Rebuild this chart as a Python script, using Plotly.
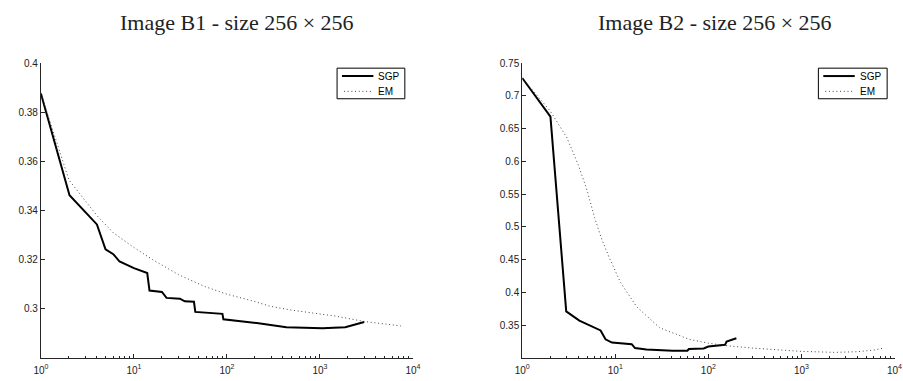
import plotly.graph_objects as go

# ---------------- data ----------------
b1_sgp_x = [1, 2.03, 4.0, 4.95, 6, 7, 10, 13.9, 14.7, 20, 22.4, 31.2, 35.2, 44.2, 45.7,
            89.4, 91.6, 209, 435, 1060, 1870, 2990]
b1_sgp_y = [0.3877, 0.3463, 0.3344, 0.3243, 0.3223, 0.3193, 0.3166, 0.3146, 0.3075, 0.3069,
            0.3045, 0.3042, 0.3031, 0.3029, 0.2988, 0.2980, 0.2958, 0.2943, 0.2926, 0.2922,
            0.2926, 0.2947]
b1_em_x = [1, 2, 3, 4, 6, 10, 16, 30, 57, 100, 200, 290, 500, 1000, 1466, 3000, 5000, 7400]
b1_em_y = [0.3877, 0.3525, 0.3440, 0.3380, 0.3310, 0.3250, 0.3200, 0.3140, 0.3092, 0.3060,
           0.3030, 0.3011, 0.2995, 0.2980, 0.2971, 0.2949, 0.2940, 0.2931]

b2_sgp_x = [1, 2.01, 2.97, 4.11, 6.95, 7.85, 9.2, 15, 16.3, 21.6, 41.3, 59.5, 61.7, 89, 100,
            151, 157, 200]
b2_sgp_y = [0.7275, 0.6684, 0.3710, 0.3570, 0.3420, 0.3285, 0.3234, 0.3210, 0.3150, 0.3129,
            0.3110, 0.3110, 0.3135, 0.3144, 0.3174, 0.3200, 0.3250, 0.3300]
b2_em_x = [1, 2, 3, 4, 5, 6, 7, 8.5, 11.3, 17, 30, 62, 100, 163, 300, 550, 1000, 2300, 4000,
           6000, 7600]
b2_em_y = [0.7275, 0.6770, 0.6370, 0.5950, 0.5550, 0.5140, 0.4850, 0.4550, 0.4160, 0.3780,
           0.3460, 0.3285, 0.3225, 0.3185, 0.3150, 0.3120, 0.3100, 0.3085, 0.3095, 0.3120,
           0.3150]

titles = ["Image B1 - size 256 \u00d7 256", "Image B2 - size 256 \u00d7 256"]
series_names = ["SGP", "EM"]
x_tickvals = [1, 10, 100, 1000, 10000]
x_ticktext = ["10<sup>0</sup>", "10<sup>1</sup>", "10<sup>2</sup>", "10<sup>3</sup>", "10<sup>4</sup>"]
x_minor_vals = [m * d for d in [1, 10, 100, 1000] for m in range(2, 10)]
b1_yticks = [0.30, 0.32, 0.34, 0.36, 0.38, 0.40]
b1_yticktext = ["0.3", "0.32", "0.34", "0.36", "0.38", "0.4"]
b2_yticks = [0.35, 0.40, 0.45, 0.50, 0.55, 0.60, 0.65, 0.70, 0.75]
b2_yticktext = ["0.35", "0.4", "0.45", "0.5", "0.55", "0.6", "0.65", "0.7", "0.75"]

# ---------------- layout helpers ----------------
W, H = 903, 381
def px_x(p):
    return p / W
def px_y(p):
    return (H - p) / H

SGP_STYLE = dict(color="black", width=2)
EM_STYLE = dict(color="#444444", width=1, dash="1px,2.7px")

fig = go.Figure()
fig.add_trace(go.Scatter(x=b1_sgp_x, y=b1_sgp_y, mode="lines", line=SGP_STYLE,
                         name=series_names[0], xaxis="x", yaxis="y", showlegend=False))
fig.add_trace(go.Scatter(x=b1_em_x, y=b1_em_y, mode="lines", line=EM_STYLE,
                         name=series_names[1], xaxis="x", yaxis="y", showlegend=False))
fig.add_trace(go.Scatter(x=b2_sgp_x, y=b2_sgp_y, mode="lines", line=SGP_STYLE,
                         name=series_names[0], xaxis="x2", yaxis="y2", showlegend=False))
fig.add_trace(go.Scatter(x=b2_em_x, y=b2_em_y, mode="lines", line=EM_STYLE,
                         name=series_names[1], xaxis="x2", yaxis="y2", showlegend=False))

tick_font = dict(family="Liberation Sans, Arial, sans-serif", size=10, color="#222222")
axis_common = dict(showline=True, linecolor="#262626", linewidth=1, ticks="inside",
                   tickcolor="#262626", showgrid=False, zeroline=False, tickfont=tick_font)

xcommon = dict(axis_common, type="log", range=[0, 4], tickvals=x_tickvals, ticktext=x_ticktext,
               ticklen=4, ticklabelstandoff=3,
               minor=dict(tickvals=x_minor_vals, ticks="inside", ticklen=2,
                          tickcolor="#262626", showgrid=False))

dom_y = [px_y(357.3), px_y(59)]
fig.update_layout(
    width=W, height=H, margin=dict(l=0, r=0, t=0, b=0),
    paper_bgcolor="white", plot_bgcolor="white",
    xaxis=dict(xcommon, domain=[px_x(33.5), px_x(412.3)], anchor="y"),
    yaxis=dict(axis_common, domain=dom_y, range=[0.2802, 0.4], tickvals=b1_yticks,
               ticktext=b1_yticktext, ticklen=4, anchor="x"),
    xaxis2=dict(xcommon, domain=[px_x(523.5), px_x(902.5)], anchor="y2"),
    yaxis2=dict(axis_common, domain=dom_y, range=[0.3005, 0.75], tickvals=b2_yticks,
                ticktext=b2_yticktext, ticklen=4, anchor="x2"),
    showlegend=False,
)

# titles
title_font = dict(family="Liberation Serif, DejaVu Serif, serif", size=22, color="#222222")
for t, cx in zip(titles, [233, 720]):
    fig.add_annotation(text=t, x=px_x(cx), y=px_y(18), xref="paper", yref="paper",
                       showarrow=False, font=title_font, xanchor="center", yanchor="middle")

# legends (drawn manually)
leg_font = dict(family="Liberation Sans, Arial, sans-serif", size=10, color="black")
for L, R in [(335, 404), (825, 895)]:
    fig.add_shape(type="rect", xref="paper", yref="paper",
                  x0=px_x(L), x1=px_x(R), y0=px_y(95), y1=px_y(64),
                  line=dict(color="black", width=1), fillcolor="white")
    fig.add_shape(type="line", xref="paper", yref="paper",
                  x0=px_x(L + 5), x1=px_x(L + 37), y0=px_y(72), y1=px_y(72),
                  line=SGP_STYLE)
    fig.add_shape(type="line", xref="paper", yref="paper",
                  x0=px_x(L + 7), x1=px_x(L + 37), y0=px_y(87.5), y1=px_y(87.5),
                  line=EM_STYLE)
    for name, yy in zip(series_names, [72, 87.5]):
        fig.add_annotation(text=name, x=px_x(L + 41), y=px_y(yy), xref="paper", yref="paper",
                           showarrow=False, font=leg_font, xanchor="left", yanchor="middle",
                           borderpad=0)

fig.write_html("out.html")
